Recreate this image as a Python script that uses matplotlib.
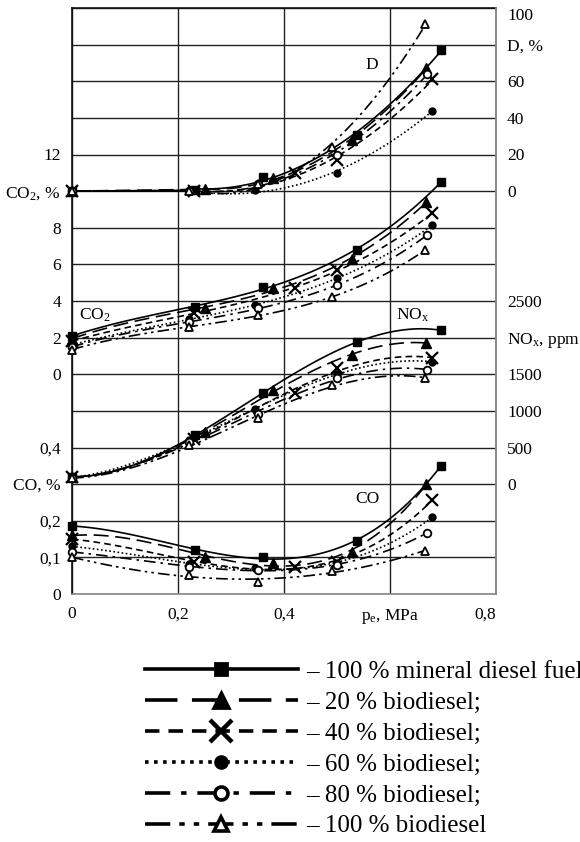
import numpy as np
import matplotlib
matplotlib.use("Agg")
import matplotlib.pyplot as plt
from matplotlib.lines import Line2D

plt.rcParams["font.family"] = "Liberation Serif"
plt.rcParams["mathtext.fontset"] = "custom"
plt.rcParams["mathtext.rm"] = "Liberation Serif"
plt.rcParams["mathtext.it"] = "Liberation Serif:italic"

# Fuels (legend order)
fuel_labels = ["– 100 % mineral diesel fuel", "– 20 % biodiesel;", "– 40 % biodiesel;",
               "– 60 % biodiesel;", "– 80 % biodiesel;", "– 100 % biodiesel"]

# load points p_e, MPa for each fuel
pe_points = [
    [0, 0.232, 0.36, 0.537, 0.696],
    [0, 0.251, 0.38, 0.528, 0.668],
    [0, 0.23, 0.42, 0.50, 0.68],
    [0, 0.22, 0.345, 0.50, 0.68],
    [0, 0.22, 0.35, 0.50, 0.67],
    [0, 0.22, 0.35, 0.49, 0.666],
]

# smoke D, %
d_pct = [
    [0, 0.5, 7.6, 30.6, 77],
    [0, 1.0, 7.0, 28, 67],
    [0, 0, 10, 17, 61],
    [0, 0, 0.5, 10, 44],
    [0, 0, 4, 20, 64],
    [0, 0, 4, 24, 91],
]

# CO2, %
co2_pct = [
    [2.1, 3.66, 4.75, 6.78, 10.5],
    [1.95, 3.6, 4.7, 6.28, 9.4],
    [1.8, 3.33, 4.7, 5.68, 8.8],
    [1.6, 3.0, 3.77, 5.25, 8.14],
    [1.5, 2.84, 3.6, 4.86, 7.6],
    [1.35, 2.57, 3.22, 4.2, 6.78],
]

# NOx, ppm
nox_ppm = [
    [100, 670, 1240, 1940, 2100],
    [100, 710, 1280, 1760, 1930],
    [95, 620, 1240, 1590, 1720],
    [90, 600, 1025, 1500, 1670],
    [85, 570, 960, 1450, 1560],
    [80, 530, 900, 1350, 1450],
]

# CO, %
co_pct = [
    [0.186, 0.12, 0.10, 0.145, 0.35],
    [0.16, 0.10, 0.085, 0.115, 0.30],
    [0.15, 0.088, 0.075, 0.088, 0.257],
    [0.13, 0.082, 0.07, 0.085, 0.21],
    [0.115, 0.075, 0.065, 0.08, 0.167],
    [0.10, 0.052, 0.033, 0.063, 0.118],
]

# tick labels
x_ticks = [0, 0.2, 0.4, 0.6, 0.8]
x_labels = ["0", "0,2", "0,4", r"p$_\mathrm{e}$, MPa", "0,8"]
left_labels = ["0", "0,1", "0,2", "CO, %", "0,4", "", "0", "2", "4", "6", "8",
               r"CO$_2$, %", "12", "", "", "", ""]
right_labels = ["", "", "", "0", "500", "1000", "1500", r"NO$_\mathrm{x}$, ppm", "2500",
                "", "", "0", "20", "40", "60", "D, %", "100"]


# each quantity has its own scale on the common grid (grid units 0..16)
def d_grid(v):
    return 11 + np.asarray(v, float) / 20


def co2_grid(v):
    return 6 + np.asarray(v, float) / 2


def nox_grid(v):
    return 3 + np.asarray(v, float) / 500


def co_grid(v):
    return np.asarray(v, float) / 0.1


def trend(ax, x, y, deg, **kw):
    # polynomial trendline through the measured points
    x = np.asarray(x, float)
    c = np.polyfit(x, y, deg)
    xs = np.linspace(x.min(), x.max(), 80)
    ax.plot(xs, np.polyval(c, xs), **kw)


styles = [
    dict(ls="-", marker="s", ms=5.5, mfc="black"),
    dict(ls=(0, (9, 4)), marker="^", ms=6.5, mfc="black"),
    dict(ls=(0, (4, 2.5)), marker="x", ms=9, mfc="black", mew=1.6),
    dict(ls=(0, (1, 1.5)), marker="o", ms=5, mfc="black"),
    dict(ls=(0, (7, 3, 1.5, 3)), marker="o", ms=5.5, mfc="white", mew=1.3),
    dict(ls=(0, (7, 2.5, 1.5, 2.5, 1.5, 2.5)), marker="^", ms=6, mfc="white", mew=1.3),
]

fig = plt.figure(figsize=(5.8, 8.42), dpi=100)
ax = fig.add_axes([72 / 580, (842 - 594) / 842, 424 / 580, 586 / 842])
ax.set_xlim(0, 0.8)
ax.set_ylim(0, 16)

for i in range(6):
    st = styles[i]
    lkw = dict(color="black", lw=1.2, ls=st["ls"], zorder=3)
    mkw = dict(ls="none", marker=st["marker"], ms=st["ms"], mfc=st["mfc"], mec="black",
               mew=st.get("mew", 1.0), clip_on=False, zorder=4)
    x = pe_points[i]
    # D: flat part at idle, then rising trend
    ax.plot(x[:2], d_grid(d_pct[i][:2]), **lkw)
    trend(ax, x[1:], d_grid(d_pct[i][1:]), 2, **lkw)
    trend(ax, x, co2_grid(co2_pct[i]), 3, **lkw)
    trend(ax, x, nox_grid(nox_ppm[i]), 3, **lkw)
    trend(ax, x, co_grid(co_pct[i]), 3, **lkw)
    for vals in [d_grid(d_pct[i]), co2_grid(co2_pct[i]), nox_grid(nox_ppm[i]), co_grid(co_pct[i])]:
        ax.plot(x, vals, **mkw)

ax.set_xticks(x_ticks)
ax.set_xticklabels(x_labels)
ax.set_yticks(range(17))
ax.set_yticklabels(left_labels)
ax.set_axisbelow(True)
ax.grid(True, color="#222222", lw=1.0)
ax.tick_params(axis="y", length=0, labelsize=12.5, pad=8)
ax.tick_params(axis="x", length=0, labelsize=12.5, pad=9)
xl = ax.get_xticklabels()
xl[-1].set_ha("right")
for sp in ["left", "top"]:
    ax.spines[sp].set_color("#111111")
    ax.spines[sp].set_linewidth(1.2)
for sp in ["right", "bottom"]:
    ax.spines[sp].set_color("#888888")
    ax.spines[sp].set_linewidth(1.2)

ax2 = ax.twinx()
ax2.set_ylim(0, 16)
ax2.set_yticks(range(17))
ax2.set_yticklabels(right_labels)
ax2.tick_params(axis="y", length=0, labelsize=12.5, pad=8)
ax2.get_yticklabels()[-1].set_va("top")
for sp in ["left", "top", "bottom"]:
    ax2.spines[sp].set_visible(False)
ax2.spines["right"].set_color("#888888")
ax2.spines["right"].set_linewidth(1.2)

# curve group names
ax.text(0.566, 14.44, "D", fontsize=12.5, ha="center", va="center")
ax.text(0.043, 7.62, r"CO$_2$", fontsize=12.5, ha="center", va="center")
ax.text(0.643, 7.62, r"NO$_\mathrm{x}$", fontsize=12.5, ha="center", va="center")
ax.text(0.557, 2.6, "CO", fontsize=12.5, ha="center", va="center")

# legend
handles = []
for st in styles:
    handles.append(Line2D([], [], color="black", lw=2.6, ls=st["ls"], marker=st["marker"],
                          ms=st["ms"] * 1.7, mfc=st["mfc"], mec="black",
                          mew=st.get("mew", 1.0) * 2))
fig.legend(handles, fuel_labels, loc="upper left", bbox_to_anchor=(145 / 580, 1 - 660 / 842),
           frameon=False, fontsize=18, handlelength=6.1, handletextpad=0.36,
           borderpad=0, borderaxespad=0, labelspacing=0.34, numpoints=1)

fig.savefig("out.png", dpi=100)
